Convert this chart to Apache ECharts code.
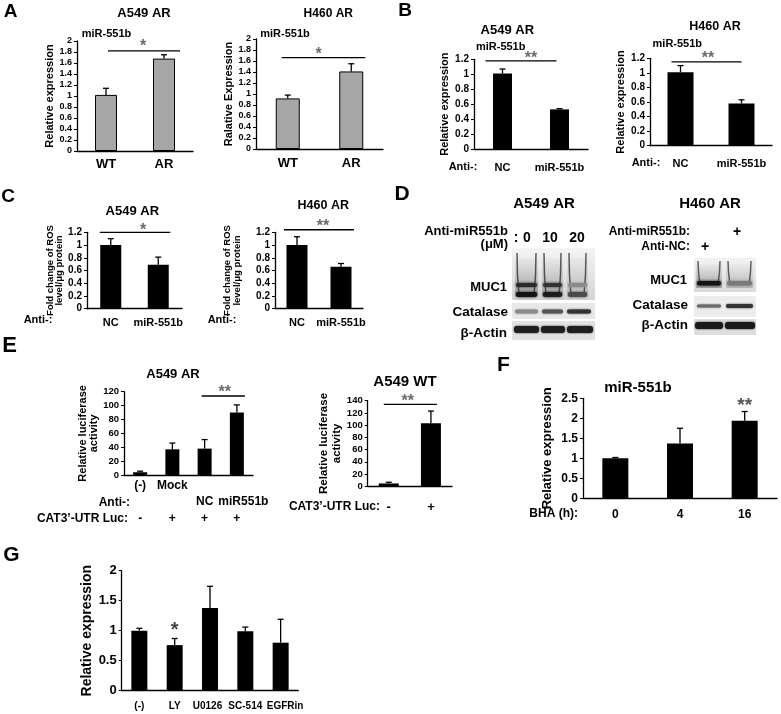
<!DOCTYPE html>
<html><head><meta charset="utf-8">
<script src="https://cdn.jsdelivr.net/npm/echarts/dist/echarts.min.js"></script>
<style>html,body{margin:0;padding:0;background:#fff}#c{width:781px;height:714px}</style>
</head><body><div id="c"></div>
<script>
// ---------------- DATA ----------------
const catsA = ['WT', 'AR'];
const valsA1 = [1.02, 1.68];
const errA1 = [0.12, 0.07];
const valsA2 = [0.92, 1.41];
const errA2 = [0.06, 0.14];

const catsB = ['NC', 'miR-551b'];
const valsB1 = [1.01, 0.53];
const errB1 = [0.06, 0.01];
const valsB2 = [1.01, 0.58];
const errB2 = [0.09, 0.05];

const catsC = ['NC', 'miR-551b'];
const valsC1 = [1.00, 0.69];
const errC1 = [0.10, 0.12];
const valsC2 = [1.00, 0.66];
const errC2 = [0.13, 0.05];

const rowE1Treat = ['(-)', 'Mock', '', ''];
const rowE1Anti = ['', '', 'NC', 'miR551b'];
const rowE1Luc = ['-', '+', '+', '+'];
const valsE1 = [4, 37, 38, 90];
const errE1 = [1.5, 9, 13, 11];

const rowE2Luc = ['-', '+'];
const valsE2 = [4.5, 103];
const errE2 = [2, 20];

const catsF = ['0', '4', '16'];
const valsF = [1.00, 1.37, 1.94];
const errF = [0.02, 0.38, 0.23];

const catsG = ['(-)', 'LY', 'U0126', 'SC-514', 'EGFRin'];
const valsG = [1.00, 0.76, 1.38, 0.99, 0.80];
const errG = [0.04, 0.11, 0.36, 0.07, 0.39];

// significance: [fromIndex, toIndex, level, mark]
const sigA1 = [[0, 1, 1.82, '*']];
const sigA2 = [[0, 1, 1.66, '*']];
const sigB1 = [[0, 1, 1.18, '**']];
const sigB2 = [[0, 1, 1.15, '**']];
const sigC1 = [[0, 1, 1.20, '*']];
const sigC2 = [[0, 1, 1.24, '**']];
const sigE1 = [[2, 3, 113.8, '**']];
const sigE2 = [[0, 1, 134, '**']];
const sigF = [[2, 2, 2.415, '**']];
const sigG = [[1, 1, 1.067, '*']];

// ---------------- BUILD ----------------
const FF = "'Liberation Sans', Arial, Helvetica, sans-serif";
const fnt = s => `bold ${s}px ${FF}`;
const option = {animation: false, backgroundColor: '#fff', grid: [], xAxis: [], yAxis: [], series: [], graphic: {elements: []}};

function errRender(cap) {
  return function (params, api) {
    const p0 = api.coord([api.value(0), api.value(1)]);
    const p1 = api.coord([api.value(0), api.value(2)]);
    return {type: 'group', children: [
      {type: 'line', shape: {x1: p0[0], y1: p0[1], x2: p1[0], y2: p1[1]}, style: {stroke: '#000', lineWidth: 1.3}},
      {type: 'line', shape: {x1: p1[0] - cap, y1: p1[1], x2: p1[0] + cap, y2: p1[1]}, style: {stroke: '#000', lineWidth: 1.3}}
    ]};
  };
}
function sigRender(sig, ext, starFont, starDy, starColor) {
  return function (params, api) {
    const a = api.coord([api.value(0), api.value(2)]);
    const b = api.coord([api.value(1), api.value(2)]);
    const ch = [];
    let x1 = a[0], x2 = b[0];
    if (api.value(0) !== api.value(1)) {
      x1 += ext[0]; x2 += ext[1];
      ch.push({type: 'line', shape: {x1: x1, y1: a[1], x2: x2, y2: a[1]}, style: {stroke: '#000', lineWidth: 1.3}});
    }
    ch.push({type: 'text', x: (x1 + x2) / 2 + (ext[2] || 0), y: a[1] + starDy,
      style: {text: sig[params.dataIndex][3], font: fnt(starFont), fill: starColor || '#6a6a6a',
        textAlign: 'center', textVerticalAlign: 'middle', align: 'center', verticalAlign: 'middle'}});
    return {type: 'group', children: ch};
  };
}

function panel(o) {
  const gi = option.grid.length;
  option.grid.push({left: o.left, top: o.top, width: o.width, height: o.height, containLabel: false, outerBoundsMode: 'none'});
  option.xAxis.push({type: 'category', gridIndex: gi, data: o.cats, boundaryGap: true,
    axisLine: {show: true, onZero: false, lineStyle: {color: '#000', width: 1.3}}, axisTick: {show: false},
    axisLabel: {show: true, interval: 0, margin: o.xMargin, fontSize: o.xFont, fontWeight: 'bold', color: '#000',
      fontFamily: FF, lineHeight: o.xLH || o.xFont + 2, formatter: o.xFormatter, rich: o.xRich},
    splitLine: {show: false}});
  option.yAxis.push({type: 'value', gridIndex: gi, min: 0, max: o.yMax, interval: o.yInt,
    axisLine: {show: true, lineStyle: {color: '#000', width: 1.3}},
    axisTick: {show: true, inside: false, length: 3, lineStyle: {color: '#000', width: 1}},
    axisLabel: {show: true, margin: o.yMargin || 5, fontSize: o.yFont, fontWeight: 'bold', color: '#000', fontFamily: FF},
    splitLine: {show: false},
    name: o.yName, nameLocation: 'middle', nameRotate: 90, nameGap: o.nameGap,
    nameTextStyle: {fontSize: o.nameFont, fontWeight: 'bold', color: '#000', fontFamily: FF, lineHeight: o.nameLH || o.nameFont + 1}});
  option.series.push({type: 'bar', xAxisIndex: gi, yAxisIndex: gi, data: o.vals, barWidth: o.barW, silent: true,
    itemStyle: {color: o.color || '#000', borderColor: '#000', borderWidth: o.border || 0}, z: 2});
  option.series.push({type: 'custom', xAxisIndex: gi, yAxisIndex: gi, silent: true, z: 3,
    data: o.vals.map((v, i) => [i, v, v + o.err[i]]), encode: {x: 0, y: [1, 2]}, renderItem: errRender(o.cap || 3)});
  if (o.sig) option.series.push({type: 'custom', xAxisIndex: gi, yAxisIndex: gi, silent: true, z: 4, clip: false,
    data: o.sig.map(s => [s[0], s[1], s[2]]), encode: {x: [0, 1], y: 2},
    renderItem: sigRender(o.sig, o.sigExt || [0, 0, 0], o.starFont || 15, o.starDy, o.starColor)});
}

// A
panel({left: 77, top: 41, width: 116, height: 110, cats: catsA, vals: valsA1, err: errA1, yMax: 2, yInt: 0.2,
  barW: 22, color: '#a6a6a6', border: 1, yFont: 9, xFont: 13, xMargin: 6, yName: 'Relative expression', nameGap: 20, nameFont: 11,
  sig: sigA1, sigExt: [2, 16, -1], starDy: -4, starFont: 16});
panel({left: 256, top: 39, width: 127, height: 110, cats: catsA, vals: valsA2, err: errA2, yMax: 2, yInt: 0.2,
  barW: 24, color: '#a6a6a6', border: 1, yFont: 9, xFont: 13, xMargin: 7, yName: 'Ralative Expression', nameGap: 21, nameFont: 11,
  sig: sigA2, sigExt: [-6, 14, -5], starDy: -3, starFont: 16});
// B
panel({left: 474, top: 59.3, width: 114, height: 89.7, cats: catsB, vals: valsB1, err: errB1, yMax: 1.2, yInt: 0.2,
  barW: 19, yFont: 10, xFont: 11, xMargin: 12, yName: 'Relative expression', nameGap: 23, nameFont: 11,
  sig: sigB1, sigExt: [-17, -3, 10], starDy: -2, starFont: 16});
panel({left: 650, top: 58.3, width: 122, height: 87.4, cats: catsB, vals: valsB2, err: errB2, yMax: 1.2, yInt: 0.2,
  barW: 26, yFont: 10, xFont: 11, xMargin: 12, yName: 'Relative expression', nameGap: 18, nameFont: 11,
  sig: sigB2, sigExt: [-9, 0, 1.5], starDy: -3, starFont: 16});
// C
panel({left: 87, top: 232.3, width: 95, height: 76.4, cats: catsC, vals: valsC1, err: errC1, yMax: 1.2, yInt: 0.2,
  barW: 21, yFont: 10, xFont: 11, xMargin: 8, yName: 'Fold change of ROS\nlevel/\u03bcg protein', nameGap: 11, nameFont: 9.5, nameLH: 9,
  sig: sigC1, sigExt: [-11, 12, 8], starDy: -2, starFont: 16});
panel({left: 275, top: 232.3, width: 88, height: 76.4, cats: catsC, vals: valsC2, err: errC2, yMax: 1.2, yInt: 0.2,
  barW: 21, yFont: 10, xFont: 11, xMargin: 8, yName: 'Fold change of ROS\nlevel/\u03bcg protein', nameGap: 33, nameFont: 9.5, nameLH: 10,
  sig: sigC2, sigExt: [-13, 13, 4], starDy: -3, starFont: 16});
// E
const catsE1 = rowE1Treat.map((t, i) => t + '|' + rowE1Anti[i] + '|' + rowE1Luc[i]);
const fmtE1 = function (v) {
  const p = v.split('|');
  const mid = p[1] === rowE1Anti[3] ? '{sh|' + p[1] + '}' : p[1];
  return p[0] + '\n' + mid + '\n' + p[2];
};
panel({left: 124, top: 391.7, width: 129, height: 83.3, cats: catsE1, vals: valsE1, err: errE1, yMax: 120, yInt: 20,
  barW: 14, yFont: 9.5, xFont: 12, xMargin: 2, xLH: 16.7, xFormatter: fmtE1,
  xRich: {sh: {fontSize: 12, fontWeight: 'bold', fontFamily: FF, color: '#000', lineHeight: 16.7, padding: [0, 0, 0, 13]}},
  yName: 'Relative luciferase\nactivity', nameGap: 21, nameFont: 11, nameLH: 11,
  sig: sigE1, sigExt: [-3, 8, 1.5], starDy: -3, starFont: 16});
panel({left: 367.7, top: 400.7, width: 84.3, height: 85.5, cats: rowE2Luc, vals: valsE2, err: errE2, yMax: 140, yInt: 20,
  barW: 20, yFont: 9.5, xFont: 13, xMargin: 14, yName: 'Relative luciferase\nactivity', nameGap: 24, nameFont: 11.5, nameLH: 13,
  sig: sigE2, sigExt: [-5, 6, -2.5], starDy: -3, starFont: 16});
// F
panel({left: 583, top: 398.3, width: 194, height: 100, cats: catsF, vals: valsF, err: errF, yMax: 2.5, yInt: 0.5,
  barW: 26, yFont: 12, xFont: 12, xMargin: 9, yName: 'Relative expression', nameGap: 29, nameFont: 13,
  sig: sigF, starDy: 4, starFont: 19, starColor: '#555'});
// G
const fmtG = v => v === catsG[4] ? '{r|' + v + '}' : (v === catsG[2] ? '{l|' + v + '}' : v);
panel({left: 121.7, top: 570.7, width: 176.6, height: 120, cats: catsG, vals: valsG, err: errG, yMax: 2, yInt: 0.5,
  barW: 16, yFont: 13, xFont: 10, xMargin: 10, xFormatter: fmtG,
  xRich: {r: {fontSize: 10, fontWeight: 'bold', fontFamily: FF, color: '#000', padding: [0, 0, 0, 9]},
          l: {fontSize: 10, fontWeight: 'bold', fontFamily: FF, color: '#000', padding: [0, 5, 0, 0]}},
  yName: 'Relative expression', nameGap: 23, nameFont: 14,
  sig: sigG, starDy: 4, starFont: 20, starColor: '#444'});

// ---------------- TEXT & BLOT GRAPHICS ----------------
const G = option.graphic.elements;
function T(text, x, y, size, align, color) {
  G.push({type: 'text', x: x, y: y, silent: true,
    style: {text: text, font: fnt(size), fill: color || '#000', textAlign: align || 'center', textVerticalAlign: 'middle',
      align: align || 'center', verticalAlign: 'middle'}});
}
// panel letters
T('A', 10.5, 11.5, 19); T('B', 405, 11, 19); T('C', 8, 196.7, 19); T('D', 402, 194.5, 21);
T('E', 9.5, 345.5, 22); T('F', 503.5, 365.5, 21); T('G', 11.5, 555.5, 21);
// A
T('A549 AR', 144, 13.3, 13); T('H460 AR', 328.3, 13.3, 12);
T('miR-551b', 106.5, 34, 11); T('miR-551b', 285, 33.7, 11);
// B
T('A549 AR', 507.3, 30, 13); T('miR-551b', 500.7, 47.3, 11);
T('H460 AR', 715, 26.7, 12.5); T('miR-551b', 677.3, 44.3, 11);
T('Anti-:', 463, 166.7, 11); T('Anti-:', 646, 163.3, 11);
// C
T('A549 AR', 132.3, 211, 13); T('H460 AR', 323.3, 206, 12.5);
T('Anti-:', 38, 320, 11); T('Anti-:', 222, 320, 11);
// D
T('A549 AR', 544, 204, 15); T('H460 AR', 710, 204, 15);
T('Anti-miR551b', 508, 231, 13, 'right'); T('(\u03bcM)', 508, 244, 13, 'right');
T(':', 516, 238, 14); T('0', 527, 238, 14); T('10', 550, 238, 14); T('20', 577, 238, 14);
T('Anti-miR551b:', 690, 231.7, 12, 'right'); T('Anti-NC:', 690, 246.7, 12, 'right');
T('+', 737, 232, 14); T('+', 705, 247, 14);
T('MUC1', 507, 287, 13, 'right'); T('Catalase', 508, 312, 13.5, 'right'); T('\u03b2-Actin', 507, 333, 13.5, 'right');
T('MUC1', 687, 280, 13, 'right'); T('Catalase', 688, 305, 13.5, 'right'); T('\u03b2-Actin', 688, 325, 13.5, 'right');
// E
T('A549 AR', 173, 374, 13); T('A549 WT', 405, 382, 15);
T('Anti-:', 130, 502.7, 12, 'right'); T('CAT3\u2019-UTR Luc:', 128, 518.3, 12, 'right');
T('CAT3\u2019-UTR Luc:', 380, 506.7, 12, 'right');
// F
T('miR-551b', 638, 388, 15); T('BHA (h):', 578, 514, 12, 'right');

// western blot drawings
function R(x, y, w, h, fill, extra) {
  const e = {type: 'rect', silent: true, shape: {x: x, y: y, width: w, height: h, r: (extra && extra.r) || 0}, style: {fill: fill}};
  if (extra && extra.blur) { e.style.shadowBlur = extra.blur; e.style.shadowColor = fill; }
  G.push(e);
}
function P(pts, color, w) {
  G.push({type: 'polyline', silent: true, shape: {points: pts}, style: {stroke: color, lineWidth: w, fill: null}});
}
const vgrad = (c1, c2) => ({type: 'linear', x: 0, y: 0, x2: 0, y2: 1, colorStops: [{offset: 0, color: c1}, {offset: 1, color: c2}]});
// A549 MUC1
R(512, 248, 83, 52, vgrad('#f4f4f4', '#d4d4d4'));
const laneA = [[515, 538, '#2a2a2a', '#141414', 0.35], [542, 563, '#333', '#1c1c1c', 0.3], [567, 588, '#8a8a8a', '#4a4a4a', 0.18]];
laneA.forEach(l => {
  R(l[0], 258, l[1] - l[0], 38, vgrad('rgba(80,80,80,0.03)', `rgba(60,60,60,${l[4]})`));
  P([[l[0] + 2, 253], [l[0] + 2.5, 275], [l[0] + 4, 295]], 'rgba(40,40,40,0.75)', 1.5);
  P([[l[1] - 2, 253], [l[1] - 2.5, 275], [l[1] - 4, 295]], 'rgba(40,40,40,0.75)', 1.5);
  R(l[0] + 1, 283, l[1] - l[0] - 2, 4, l[2], {r: 2, blur: 3});
  R(l[0] + 1, 292, l[1] - l[0] - 2, 5, l[3], {r: 2, blur: 3});
});
// A549 Catalase
R(512, 303, 83, 16, '#e8e8e8');
[[515, 538, '#8a8a8a'], [542, 563, '#555'], [567, 591, '#333']].forEach(l => R(l[0], 309.5, l[1] - l[0], 4, l[2], {r: 2, blur: 2}));
// A549 Actin
R(512, 321, 83, 19, '#e2e2e2');
[[514, 539], [541, 565], [567, 593]].forEach(l => R(l[0], 326, l[1] - l[0], 7, '#1e1e1e', {r: 3, blur: 2}));
// H460 MUC1
R(694, 258, 62, 34, vgrad('#f2f2f2', '#dadada'));
const laneH = [[696, 722, '#151515', 0.35], [726, 753, '#7a7a7a', 0.22]];
laneH.forEach(l => {
  R(l[0], 264, l[1] - l[0], 24, vgrad('rgba(80,80,80,0.03)', `rgba(60,60,60,${l[3]})`));
  P([[l[0] + 2, 261], [l[0] + 2.5, 272], [l[0] + 4, 285]], 'rgba(40,40,40,0.7)', 1.5);
  P([[l[1] - 2, 261], [l[1] - 2.5, 272], [l[1] - 4, 285]], 'rgba(40,40,40,0.7)', 1.5);
  R(l[0] + 1, 281, l[1] - l[0] - 2, 4.5, l[2], {r: 2, blur: 3});
});
// H460 Catalase
R(694, 296, 62, 21, '#ececec');
R(697, 304.5, 24, 3, '#6a6a6a', {r: 1.5, blur: 2});
R(726, 304, 27, 4, '#333', {r: 2, blur: 2});
// H460 Actin
R(694, 319, 62, 16, '#dedede');
R(695, 322, 28, 7, '#1a1a1a', {r: 3, blur: 2});
R(725, 322, 30, 7, '#1a1a1a', {r: 3, blur: 2});

echarts.init(document.getElementById('c'), null, {renderer: 'canvas'}).setOption(option);
</script>
</body></html>
